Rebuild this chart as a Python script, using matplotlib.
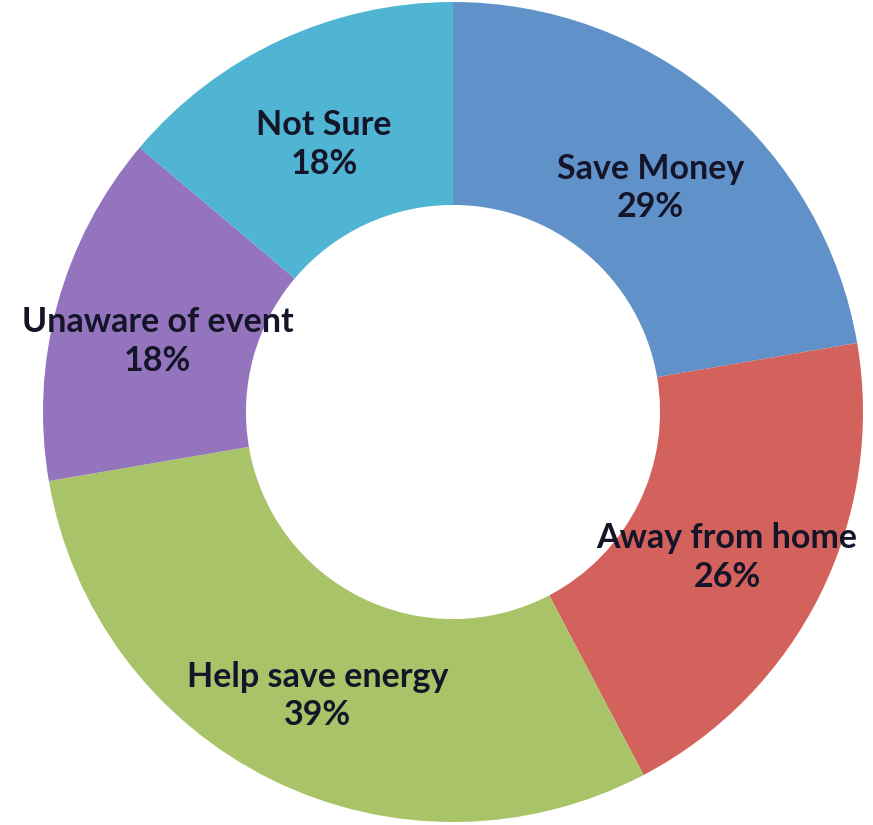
import numpy as np
import matplotlib.pyplot as plt

# data
labels = ["Save Money", "Away from home", "Help save energy", "Unaware of event", "Not Sure"]
values = [29, 26, 39, 18, 18]
colors = ["#6191c9", "#d2625b", "#a9c468", "#9374bd", "#4fb5d3"]

fig = plt.figure(figsize=(8.73, 8.25), dpi=100)
ax = fig.add_axes([0, 0, 1, 1])

wedges, _ = ax.pie(values, colors=colors, startangle=90, counterclock=False,
                   radius=1.0, wedgeprops=dict(width=0.495, linewidth=0))

R = 410.0  # one radius in px

# labels centred in the ring (sitting a touch low, like the original)
for w, lab, v in zip(wedges, labels, values):
    ang = np.deg2rad((w.theta1 + w.theta2) / 2)
    r = 0.746
    ax.text(r * np.cos(ang), r * np.sin(ang) - 10 / R, f"{lab}\n{v}%",
            ha="center", va="center", fontsize=24.5, fontweight="bold",
            family="Lato", color="#15152a", linespacing=1.25)

# centre at (453, 412) from top-left
ax.set_xlim(-453 / R, (873 - 453) / R)
ax.set_ylim(-(825 - 412) / R, 412 / R)
ax.set_aspect("auto")
ax.axis("off")

fig.savefig("out.png", dpi=100)
